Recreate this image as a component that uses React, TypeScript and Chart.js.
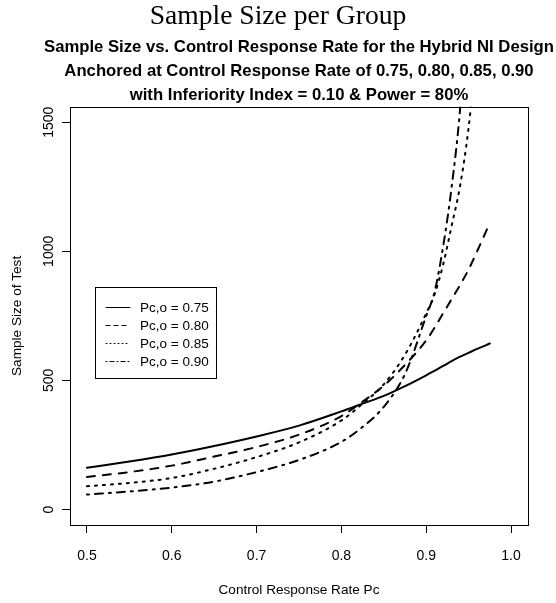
import { useEffect, useRef } from "react";
import { Chart, registerables } from "chart.js";

Chart.register(...registerables);

const SANS = '"Liberation Sans", Arial, sans-serif';
const SERIF = '"Liberation Serif", "Times New Roman", serif';

// Control response rate Pc (x) at which each curve was read
const rateGrid = [0.5, 0.55, 0.6, 0.65, 0.7, 0.75, 0.8, 0.825, 0.85, 0.875, 0.9, 0.91, 0.92, 0.93, 0.94, 0.95, 0.96, 0.975];
// Sample size of test, one series per anchoring control response rate
const n075 = [162, 186, 213, 246, 283, 325, 380, 410, 440, 478, 520, 538, 556, 575, 592, 607, 622, 643];
const n080 = [126, 145, 170, 205, 242, 290, 362, 418, 480, 560, 655, 705, 760, 815, 870, 930, 1000, 1110];
const n085 = [90, 103, 122, 158, 203, 260, 345, 410, 485, 600, 760, 835, 950, 1099, 1255, 1480, 1800, null];
const n090 = [58, 70, 85, 108, 145, 192, 262, 320, 398, 525, 750, 845, 1020, 1250, 1555, 2050, null, null];

const seriesLabels = ["Pc,o = 0.75", "Pc,o = 0.80", "Pc,o = 0.85", "Pc,o = 0.90"];
const xTicks = [0.5, 0.6, 0.7, 0.8, 0.9, 1.0];
const yTicks = [0, 500, 1000, 1500];

const titleText = "Sample Size per Group";
const subtitleLines = [
  "Sample Size vs. Control Response Rate for the Hybrid NI Design",
  "Anchored at Control Response Rate of 0.75, 0.80, 0.85, 0.90",
  "with Inferiority Index = 0.10 & Power = 80%",
];
const xTitle = "Control Response Rate Pc";
const yTitle = "Sample Size of Test";

const lineDashes = [[], [8, 8], [2, 6], [2, 6, 8, 6]];
const legendDashes = [[], [4, 4], [1, 3], [1, 3, 4, 3]];

const toPoints = (ys: (number | null)[]) =>
  rateGrid.map((x, i) => ({ x, y: ys[i] })).filter((p) => p.y !== null);

// Subtitle is centred over the plot region (like R's main title) but may be wider than it.
const subtitleWidenPlugin = {
  id: "subtitleWiden",
  afterLayout(chart: any) {
    const a = chart.chartArea;
    const box = chart.boxes.find(
      (b: any) => b && b.options && Array.isArray(b.options.text) && b.options.text[0] === subtitleLines[0]
    );
    if (!box) return;
    const centre = (a.left + a.right) / 2;
    const half = Math.min(centre, chart.width - centre);
    box.left = centre - half;
    box.right = centre + half;
    box.width = half * 2;
  },
};

const framePlugin = {
  id: "frameAndLegend",
  afterDatasetsDraw(chart: any) {
    const { ctx, chartArea: a } = chart;
    ctx.save();
    ctx.strokeStyle = "#000";
    ctx.lineWidth = 1;
    ctx.setLineDash([]);
    const l = Math.round(a.left) + 0.5;
    const t = Math.round(a.top) + 0.5;
    ctx.strokeRect(l, t, Math.round(a.right - a.left), Math.round(a.bottom - a.top));

    // legend box
    const bx = Math.round(a.left) + 25;
    const by = Math.round(a.top) + 180;
    const bw = 121;
    const bh = 91;
    ctx.strokeRect(bx + 0.5, by + 0.5, bw, bh);
    ctx.font = `13.5px ${SANS}`;
    ctx.fillStyle = "#000";
    ctx.textBaseline = "middle";
    ctx.textAlign = "left";
    chart.data.datasets.forEach((ds: any, i: number) => {
      const y = by + 20 + i * 18;
      ctx.save();
      ctx.lineWidth = 1;
      ctx.lineCap = "round";
      ctx.setLineDash(legendDashes[i]);
      ctx.beginPath();
      ctx.moveTo(bx + 11, y + 0.5);
      ctx.lineTo(bx + 35, y + 0.5);
      ctx.stroke();
      ctx.restore();
      ctx.fillText(ds.label, bx + 45, y + 1);
    });
    ctx.restore();
  },
};

export default function App() {
  const ref = useRef<HTMLCanvasElement | null>(null);

  useEffect(() => {
    if (!ref.current) return;
    Chart.defaults.font.family = SANS;
    Chart.defaults.color = "#000";
    const seriesValues = [n075, n080, n085, n090];
    const chart = new Chart(ref.current, {
      type: "line",
      data: {
        datasets: seriesValues.map((vals, i) => ({
          label: seriesLabels[i],
          data: toPoints(vals) as any,
          borderColor: "#000",
          backgroundColor: "#000",
          borderWidth: 2,
          borderDash: lineDashes[i],
          borderCapStyle: "round",
          pointRadius: 0,
          pointHoverRadius: 0,
          fill: false,
          cubicInterpolationMode: "monotone",
        })),
      },
      options: {
        responsive: false,
        animation: false,
        events: [],
        layout: { padding: 0 },
        plugins: {
          legend: { display: false },
          tooltip: { enabled: false },
          title: {
            display: true,
            text: titleText,
            color: "#000",
            font: { family: SERIF, size: 27.6, weight: "normal", lineHeight: 1.2 },
            padding: { top: 0, bottom: 3 },
          },
          subtitle: {
            display: true,
            text: subtitleLines,
            color: "#000",
            fullSize: false,
            font: { family: SANS, size: 16.7, weight: "bold", lineHeight: 1.41 },
            padding: { top: 0, bottom: 0 },
          },
        },
        scales: {
          x: {
            type: "linear",
            min: 0.48,
            max: 1.02,
            afterBuildTicks: (s: any) => {
              s.ticks = xTicks.map((v) => ({ value: v }));
            },
            afterFit: (s: any) => {
              s.height = 78;
            },
            ticks: {
              autoSkip: false,
              maxRotation: 0,
              padding: 15,
              font: { size: 14 },
              color: "#000",
              callback: (v: any) => Number(v).toFixed(1),
            },
            grid: {
              drawOnChartArea: false,
              drawTicks: true,
              tickLength: 8,
              color: "#000",
              tickColor: "#000",
            },
            border: { display: false },
            title: {
              display: true,
              text: xTitle,
              color: "#000",
              font: { size: 13.6 },
              padding: { top: 0, bottom: 4.5 },
            },
          },
          y: {
            type: "linear",
            min: -60,
            max: 1560,
            afterBuildTicks: (s: any) => {
              s.ticks = yTicks.map((v) => ({ value: v }));
            },
            afterFit: (s: any) => {
              s.width = 70;
            },
            ticks: {
              autoSkip: false,
              minRotation: 90,
              maxRotation: 90,
              crossAlign: "center",
              padding: -3,
              font: { size: 14 },
              color: "#000",
              callback: (v: any) => String(v),
            },
            grid: {
              drawOnChartArea: false,
              drawTicks: true,
              tickLength: 8,
              color: "#000",
              tickColor: "#000",
            },
            border: { display: false },
            title: {
              display: true,
              text: yTitle,
              color: "#000",
              font: { size: 13.6 },
              padding: { top: 8.8, bottom: 0 },
            },
          },
          yRight: {
            type: "linear",
            position: "right",
            display: true,
            afterFit: (s: any) => {
              s.width = 28;
            },
            ticks: { display: false },
            grid: { display: false },
            border: { display: false },
          },
        },
      } as any,
      plugins: [subtitleWidenPlugin, framePlugin],
    });
    return () => chart.destroy();
  }, []);

  return (
    <div style={{ position: "absolute", left: 0, top: 0, width: 556, height: 603, background: "#fff" }}>
      <canvas ref={ref} width={556} height={603} style={{ display: "block", width: 556, height: 603 }} />
    </div>
  );
}
